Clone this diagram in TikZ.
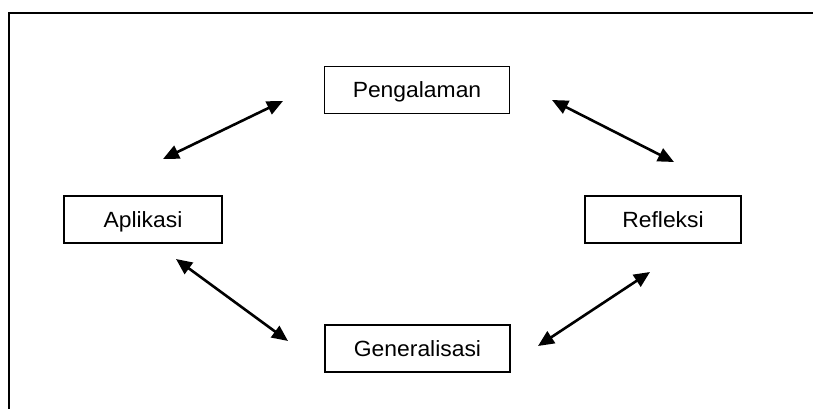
\documentclass[tikz,border=0pt]{standalone}
\usepackage{fontspec}
\setmainfont{Liberation Sans}
\newfontfamily\labfont[FakeStretch=1.04]{Liberation Sans}
\usetikzlibrary{arrows.meta}
\begin{document}
\begin{tikzpicture}[x=1pt,y=-1pt,
  stagebox/.style={draw=black,line width=1.6pt,minimum height=47pt,inner sep=0pt,text height=15.8pt,text depth=0pt,font=\labfont\fontsize{22}{25}\selectfont},
  link/.style={line width=2.6pt,{Triangle[length=16pt,width=14pt]}-{Triangle[length=16pt,width=14pt]}}]
\useasboundingbox (0,0) rectangle (813,409);
\draw[line width=2.8pt] (9,409) -- (9,13) -- (813,13);
\node[stagebox,minimum width=185pt] (peng) at (417,90) {Pengalaman};
\node[stagebox,minimum width=158pt] (apl) at (143,219.5) {Aplikasi};
\node[stagebox,minimum width=156pt] (ref) at (663,219.5) {Refleksi};
\node[stagebox,minimum width=185pt] (gen) at (417.5,348.5) {Generalisasi};
\coordinate (a1) at (163,159);
\coordinate (a2) at (283,101);
\coordinate (b1) at (552,100);
\coordinate (b2) at (674,162);
\coordinate (c1) at (176,259);
\coordinate (c2) at (288,341);
\coordinate (d1) at (650,272);
\coordinate (d2) at (538,346);
\draw[link] (a1) -- (a2);
\draw[link] (b1) -- (b2);
\draw[link] (c1) -- (c2);
\draw[link] (d1) -- (d2);
\end{tikzpicture}
\end{document}
